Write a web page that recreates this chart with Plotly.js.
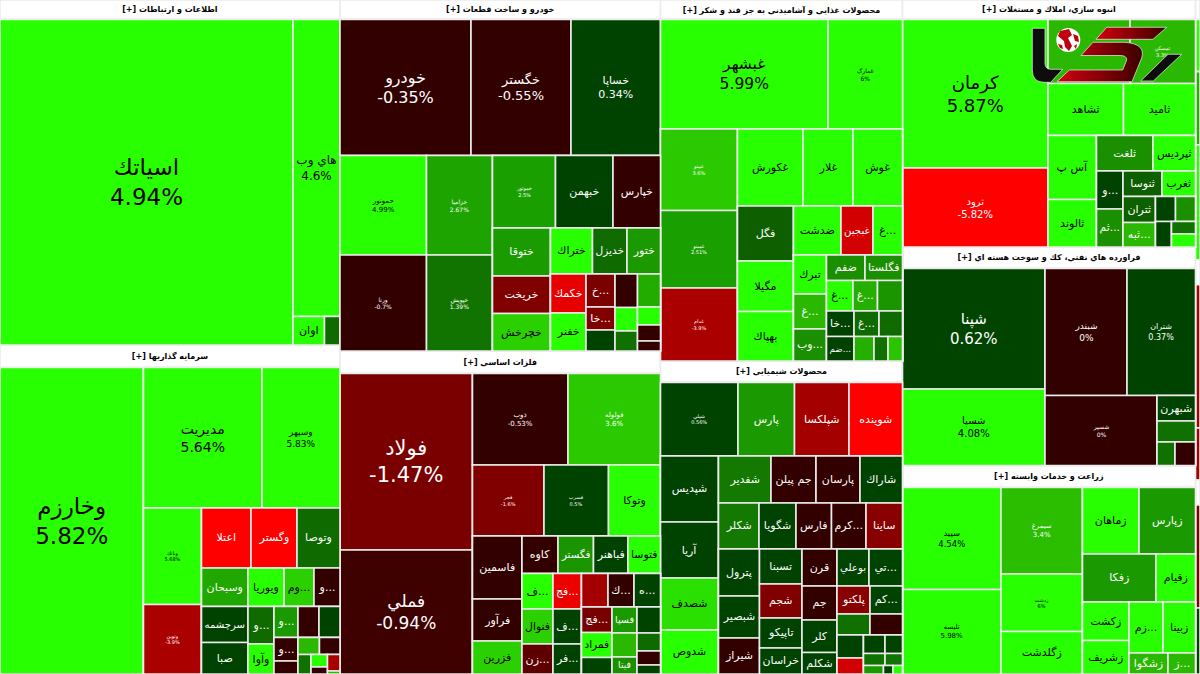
<!DOCTYPE html>
<html>
<head>
<meta charset="utf-8">
<script src="https://cdn.plot.ly/plotly-3.0.1.min.js"></script>
<style>html,body{margin:0;padding:0;background:#e6e6e6;overflow:hidden}#chart{width:1200px;height:674px}</style>
</head>
<body>
<div id="chart"></div>
<script>
// ---------- sector data: names, market weights, daily change (%) ----------
const ictNames = ["اسیاتك","هاي وب","اوان",""];
const ictWeights = [95372,13959,898,442];
const ictChanges = [4.94,4.6,5,1.2];
const ictTree = [0,[1,[2,3]]];

const investNames = ["وخارزم","مدیریت","وسپهر","وبانك","ونوین","اعتلا","وگستر","وتوصا","وسبحان","ویوریا","وم...","و...","سرچشمه","صبا","و...","وآوا","و...","","","و...","","","","","","","",""];
const investWeights = [43983,16649,10959,5597,4031,2970,2760,2580,1790,1386,1155,1001,1674,1465,975,780,744,651,651,564,312,365,349,254,206,116,206,38];
const investChanges = [5.82,5.64,5.83,5.68,-3.9,-5.8,-5.5,1.2,2.8,5,3.7,-0.4,0.5,0.5,1.2,5,2.3,-0.4,0.5,-0.4,-0.5,3.3,-0.5,1.3,5,-0.4,-3.8,3.2];
const investTree = [0,[[1,2],[[3,4],[[5,6,7],[8,9,10,11],[[12,13],[14,15],[[16,17,18],[[19,20],[[21,22],[23,[24,25],[26,27]]]]]]]]]];

const autoNames = ["خودرو","خگستر","خساپا","حمونور","ورنا","خزامیا","خپویش","خموتور","خبهمن","خپارس","ختوقا","خریخت","خچرخش","ختراك","خدیزل","ختور","خكمك","خفنر","خ...","خا...","","","","","","","",""];
const autoWeights = [17816,13600,12172,8607,8304,6567,6336,4568,4169,3444,2784,2175,2175,1932,1587,1541,1385,1349,957,667,609,754,529,450,759,414,368,230];
const autoChanges = [-0.35,-0.55,0.34,4.99,-0.7,2.67,1.39,2.5,0.5,-0.6,2.4,-1.6,3.7,5,1.2,2.3,-4.8,4.7,-1.5,-1.6,0.5,-0.7,4.8,1.3,2.9,4.6,-0.6,-0.6];
const autoTree = [[[0,1,2],[[3,4],[5,6],[[7,8,9],[[10,11,12],[[13,14,15],[[16,17],[18,19,20],[21,22,23],[24,25,26,27]]]]]]]];

const metalNames = ["فولاد","فملي","ذوب","فولوله","فجر","فسرب","وتوكا","فاسمین","فرآور","فزرین","كاوه","فگستر","فباهنر","فتوسا","ف...","فنوال","زن...","فج...","ف...","فر...","","ك...","ه...","فج...","فمراد","","فسپا","","فیتا","","","",""];
const metalWeights = [23386,16430,8738,8464,5077,4580,3692,3119,2079,1634,1350,1331,1294,1219,1101,1085,930,1012,998,855,888,871,888,778,763,503,650,600,425,611,423,329,212];
const metalChanges = [-1.47,-0.94,-0.53,3.6,-1.6,0.5,5,-0.6,-0.6,3.7,-0.6,2.2,0.5,5,5,3.7,-1.2,-5,0.5,0.5,-3.5,-0.6,0.5,-1.4,5,0.5,2.3,3.3,2,0.5,1.2,-0.6,0.5];
const metalTree = [[0,1],[[2,3],[4,5,6],[[7,8,9],[[10,11,12,13],[[14,15,16],[17,18,19],[[20,21,22],[[23,24,25],[26,27,28],[29,30,31,32]]]]]]]];

const foodNames = ["غبشهر","غمارگ","غپینو","غمینو","غدام","غكورش","غلار","غوش","فگل","مگیلا","بهپاك","ضدشت","غبجین","غ...","تبرك","غ...","وب...","ضفم","فگلستا","غ...","غ...","","خا...","غ...","","ضم...","","",""];
const foodWeights = [18341,8158,6276,5968,5621,5044,3850,3812,3080,2828,2772,2328,1568,1446,1287,1155,1056,982,956,808,747,763,701,638,599,674,490,343,355];
const foodChanges = [5.99,6,3.6,2.51,-3.9,5,5,5,1,5,5,5,-4.5,5,5,3.3,2,2,2,5,3,2.2,0.4,1.2,1.2,0.4,3,1.3,3.5];
const foodTree = [[[0,1],[[2,3,4],[[5,6,7],[[8,9,10],[[11,12,13],[[14,15,16],[[17,18],[19,20,21],[22,23,24],[25,26,27,28]]]]]]]]];

const chemNames = ["شپلي","پارس","شپلكسا","شوینده","شپدیس","آریا","شصدف","شدوص","شفدیر","جم پیلن","پارسان","شاراك","شكلر","شگویا","فارس","كرم...","ساینا","پترول","شبصیر","شیراز","تسبنا","شجم","تاپیكو","خراسان","قرن","جم","كلر","شكلم","بوعلي","تي...","پلكتو","كم...","","","","","","","","","","",""];
const chemWeights = [5696,4153,4006,3932,3828,3248,3016,2552,2468,2115,2068,1998,1863,1702,1633,1587,1679,1927,1722,1476,1488,1445,1275,1105,1295,1190,1138,753,1184,1240,924,910,693,683,610,424,398,324,258,210,170,81,81];
const chemChanges = [0.56,2.3,-3.5,-5.8,0.5,0.5,3.8,5,1.5,-0.6,-0.6,0.5,1.5,0.5,-0.6,-0.6,-1.8,0.5,0.5,-0.6,0.5,-1.6,0.5,0.5,-0.6,-0.6,0.5,0.5,0.7,0.5,-1.8,0.5,1.3,-0.6,0.5,-4.5,0.5,0.5,1.3,1.4,2.3,0.5,5];
const chemTree = [[[0,1,2,3],[[4,5,6,7],[[8,9,10,11],[12,13,14,15,16],[[17,18,19],[20,21,22,23],[24,25,26,27],[[28,29],[30,31],[32,33],[[34,35],[[36,37],[38,39],[40,41,42]]]]]]]]];

const buildNames = ["كرمان","ثرود","","ثمسكن","ثشاهد","ثامید","آس پ","ثالوند","ثلغت","ثپردیس","و...","ثم...","ثنوسا","ثغرب","ثتران","ثبه...","","","","",""];
const buildWeights = [21607,11495,5248,4192,3926,3744,3104,2304,2006,1509,1007,1007,995,854,845,796,500,500,408,300,312];
const buildChanges = [5.87,-5.82,3.3,3.3,5,5,5,5,2,5,0.4,2,1,5,1,3.3,0.4,2,0.4,1.3,5];
const buildTree = [[0,1],[[2,3],[4,5],[[6,7],[[8,9],[[10,11],[[12,13],[[14,15],[[16,17],[18,[19,20]]]]]]]]]];

const oilNames = ["شپنا","شسپا","شبندر","شتران","شسپر","شبهرن","","",""];
const oilWeights = [17171,10901,10414,8700,7840,982,809,423,482];
const oilChanges = [0.62,4.08,0,0.37,0,0.5,1.3,1.3,-0.5];
const oilTree = [[0,1],[[2,3],[4,[5,6,[7,8]]]]];

const agriNames = ["سپید","تلیسه","سیمرغ","زدشت","زگلدشت","زماهان","زپارس","زفكا","زقیام","زكشت","زشریف","زم...","زبینا","زشگوا","ز..."];
const agriWeights = [10047,8323,7050,4686,3464,3757,3757,3528,1896,1790,1558,1734,1658,819,578];
const agriChanges = [4.54,5.98,3.4,6,5,5,2.3,2.3,5,5,5,5,5,3.3,3.3];
const agriTree = [[0,1],[2,3,4],[[5,6],[7,8],[[9,10],[[11,12],[13,14]]]]];

// clipped column at the right edge of the picture (null = empty header band)
const stripWeights = [88,234,329,518,112,644,234,112,464,297];
const stripChanges = [null,5,3,5,null,-3.6,-3.6,null,-1.6,0.5];

// sector header titles and header band weights
const headerTitles = ["اطلاعات و ارتباطات","سرمایه گذاریها","خودرو و ساخت قطعات","فلزات اساسي","محصولات غذایي و آشامیدني به جز قند و شكر","محصولات شیمیایي","انبوه سازي، املاك و مستغلات","فراورده هاي نفتي، كك و سوخت هسته اي","زراعت و خدمات وابسته"];
const headerWeights = [6630,7650,6250,7211,4719,5203,5714,6300,6446];

// ---------- styling ----------
// labels that also show their percentage, with their font size
const labelSizes = {"اسیاتك":23,"هاي وب":12,"وخارزم":23,"مدیریت":14,"وسپهر":9,"وبانك":5,"ونوین":5,
 "خودرو":16,"خگستر":13,"خساپا":11,"حمونور":7,"ورنا":6,"خزامیا":6,"خپویش":6,"خموتور":5,
 "فولاد":21,"فملي":17,"ذوب":7,"فولوله":7,"فجر":5,"فسرب":5,
 "غبشهر":15.5,"غمارگ":6,"غپینو":5,"غمینو":5,"غدام":5,"شپلي":5,
 "كرمان":18,"ثرود":10,"ثمسكن":5,
 "شپنا":15,"شسپا":10,"شبندر":9,"شتران":8,"شسپر":6,
 "سپید":8.5,"تلیسه":7,"سیمرغ":7,"زدشت":5};
const plainSize = 11;
const colorStops = [[-6,[255,0,0]],[-5.5,[255,0,0]],[-4.8,[230,0,0]],[-3.9,[170,0,0]],[-1.8,[136,0,0]],[-1.4,[119,0,0]],[-1,[68,0,0]],[-0.8,[51,0,0]],[0,[51,0,0]],
 [0.01,[0,64,0]],[0.7,[0,68,0]],[1,[14,95,0]],[1.3,[16,112,0]],[2,[26,143,0]],[2.5,[26,159,0]],[3.3,[43,184,0]],[3.7,[43,208,0]],[4,[40,255,0]],[6,[40,255,0]]];
function changeColor(c){
  if(c===null) return '#ffffff';
  for(let i=1;i<colorStops.length;i++){
    const a=colorStops[i-1],b=colorStops[i];
    if(c<=b[0]){
      const t=(c-a[0])/(b[0]-a[0]);
      return 'rgb('+a[1].map((v,k)=>Math.round(v+(b[1][k]-v)*t)).join(',')+')';
    }
  }
  return 'rgb(40,255,0)';
}

// ---------- assemble the hierarchy ----------
const ids=[],labels=[],parents=[],values=[],colors=[],texts=[],sizes=[],fontColors=[];
let counter=0;
function push(parent,label,value,color,text,size,fontColor){
  const id='n'+(counter++);
  ids.push(id);labels.push(label||id);parents.push(parent);values.push(value);colors.push(color);
  texts.push(text);sizes.push(size);fontColors.push(fontColor);
  return id;
}
function addLeaf(parent,s,i){
  const name=s.names[i],c=s.changes[i],sz=labelSizes[name];
  const text=sz!==undefined?name+'<br>'+c+'%':name;
  push(parent,name,s.weights[i],changeColor(c),text,sz||plainSize,c>=3.65?'#000000':'#ffffff');
}
function addNode(parent,node,s){
  if(typeof node==='number'){addLeaf(parent,s,node);return;}
  const id=push(parent,'',0,'#e6e6e6','',plainSize,'#000000');
  node.forEach(ch=>addNode(id,ch,s));
}
const sector=(names,weights,changes,tree)=>({names,weights,changes,tree});
const columns=[
 [[0,sector(ictNames,ictWeights,ictChanges,ictTree)],[1,sector(investNames,investWeights,investChanges,investTree)]],
 [[2,sector(autoNames,autoWeights,autoChanges,autoTree)],[3,sector(metalNames,metalWeights,metalChanges,metalTree)]],
 [[4,sector(foodNames,foodWeights,foodChanges,foodTree)],[5,sector(chemNames,chemWeights,chemChanges,chemTree)]],
 [[6,sector(buildNames,buildWeights,buildChanges,buildTree)],[7,sector(oilNames,oilWeights,oilChanges,oilTree)],[8,sector(agriNames,agriWeights,agriChanges,agriTree)]]
];
const rootId=push('','',0,'#e6e6e6','',plainSize,'#000000');
columns.forEach(col=>{
  const colId=push(rootId,'',0,'#e6e6e6','',plainSize,'#000000');
  col.forEach(([h,s])=>{
    push(colId,headerTitles[h],headerWeights[h],'#ffffff','<b>[+] '+headerTitles[h]+'</b>',8,'#000000');
    addNode(colId,s.tree,s);
  });
});
const stripId=push(rootId,'',0,'#e6e6e6','',plainSize,'#000000');
stripWeights.forEach((w,i)=>push(stripId,'',w,changeColor(stripChanges[i]),'',plainSize,'#000000'));

// ---------- watermark logo ----------
const logo=`<svg xmlns="http://www.w3.org/2000/svg" width="1200" height="674" viewBox="0 0 1200 674">
<defs><linearGradient id="g" x1="0" x2="1" y1="0" y2="0"><stop offset="0" stop-color="#d40010"/><stop offset="1" stop-color="#3a0000"/></linearGradient></defs>
<path d="M1032.3 28.3H1045V63Q1045 69.3 1051 69.3H1062.7L1050.7 82.3H1044Q1032.3 82.3 1032.3 70Z" fill="#0d0d0d" stroke="#f0f0f0" stroke-width="0.7"/>
<path d="M1106.7 27.3H1166.7L1153 39.3H1096Z" fill="url(#g)" stroke="#f0f0f0" stroke-width="0.7"/>
<path d="M1093 42.3H1125Q1146 44 1141.7 58L1132 81.7H1057L1069.3 70H1122.7L1126.7 60Q1127 55.5 1120 55.5H1081Z" fill="url(#g)" stroke="#f0f0f0" stroke-width="0.7"/>
<path d="M1168 54.3H1181.7L1153.3 81H1140.7Z" fill="#0d0d0d" stroke="#f0f0f0" stroke-width="0.7"/>
<circle cx="1068.3" cy="40" r="12" fill="#ffffff"/>
<path d="M1060 31L1069 29L1072 35L1068 38L1072 46L1069 51L1065 47L1064 41L1058 36Z" fill="#c00010"/>
<path d="M1073 34L1078 36L1079 42L1075 41Z" fill="#c00010"/>
<path d="M1058 44L1062 45L1063 49L1060 48Z" fill="#c00010"/>
<path d="M1074 46L1077 44L1076 49Z" fill="#c00010"/>
</svg>`;

Plotly.newPlot('chart',[{
  type:'treemap',
  ids:ids,labels:labels,parents:parents,values:values,
  branchvalues:'remainder',sort:false,
  text:texts,textinfo:'text',textposition:'middle center',
  textfont:{family:'"DejaVu Sans",sans-serif',size:sizes,color:fontColors},
  tiling:{packing:'slice-dice',pad:0},
  pathbar:{visible:false},
  marker:{colors:colors,depthfade:false,pad:{t:0,l:0,r:0,b:0},line:{color:'#ececec',width:1.6}},
  leaf:{opacity:1},
  hoverinfo:'skip',
  domain:{x:[0,1],y:[0,1]}
}],{
  width:1200,height:674,margin:{l:0,r:0,t:0,b:0},
  paper_bgcolor:'#e6e6e6',showlegend:false,
  images:[{source:'data:image/svg+xml;charset=utf-8,'+encodeURIComponent(logo),xref:'paper',yref:'paper',x:0,y:1,sizex:1,sizey:1,sizing:'stretch',xanchor:'left',yanchor:'top',layer:'above'}]
},{displayModeBar:false,staticPlot:true});
</script>
</body>
</html>
